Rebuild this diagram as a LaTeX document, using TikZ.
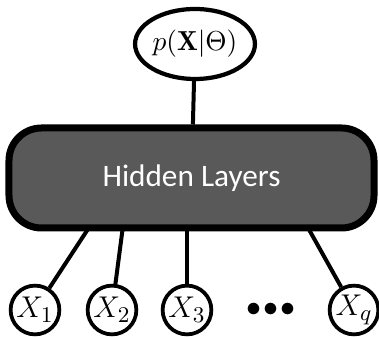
\documentclass[tikz,border=0pt]{standalone}
\usepackage{fontspec}
\newfontfamily\boxfont{Carlito}
\usetikzlibrary{shapes.geometric,positioning,backgrounds}
\definecolor{layergray}{HTML}{595959}

\begin{document}
\begin{tikzpicture}[x=0.4pt,y=-0.4pt]
    \tikzset{
        outnode/.style={ellipse, draw, line width=1.7pt, fill=white, inner sep=0pt,
            minimum width=45pt, minimum height=28pt, font=\fontsize{11}{13}\selectfont},
        innode/.style={circle, draw, line width=1.5pt, fill=white, inner sep=0pt,
            minimum size=19.5pt, font=\fontsize{12.5}{14}\selectfont},
        layerbox/.style={rectangle, draw, line width=2.8pt, fill=layergray, rounded corners=13pt,
            minimum width=146pt, minimum height=40pt, text=white,
            font=\boxfont\fontsize{12.5}{15}\selectfont},
        edge/.style={line width=1.6pt}
    }
    \useasboundingbox (0,0) rectangle (379,337);

    % Output node and hidden layers
    \node[outnode] (out) at (195,44) {$p(\mathbf{X}|\Theta)$};
    \node[layerbox] (hid) at (191.5,178) {Hidden Layers};

    % Inputs, with the point where each edge meets the box
    \foreach \name/\x/\bx/\lab in {x1/35/90/X_1, x2/112/123/X_2, x3/187/187/X_3, xq/354/307/X_q} {
        \node[innode] (\name) at (\x,310) {$\lab$};
        \coordinate (b\name) at (\bx,226);
    }
    \node (dots) at (271,310) {\large$\bullet\!\bullet\!\bullet$};

    % edges go behind the nodes
    \begin{scope}[on background layer]
        \draw[edge] (out) -- (hid);
        \foreach \name in {x1,x2,x3,xq}
            \draw[edge] (\name) -- (b\name);
    \end{scope}
\end{tikzpicture}
\end{document}
